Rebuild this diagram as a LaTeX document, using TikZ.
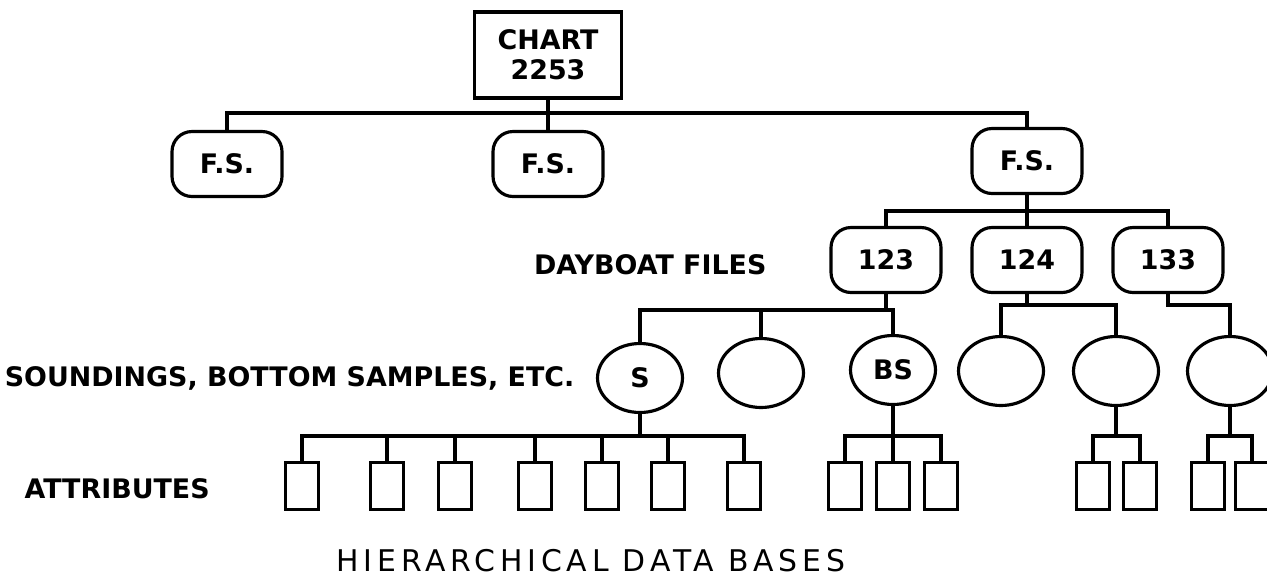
\documentclass[tikz,border=0pt]{standalone}
\usepackage{fontspec}
\setmainfont{DejaVu Sans}
\usetikzlibrary{shapes.geometric}

\begin{document}
\begin{tikzpicture}[x=0.02cm,y=-0.02cm,line width=1.8pt,
    lbl/.style={font=\fontsize{15.3}{17}\selectfont\bfseries},
    chartbox/.style={draw,lbl,align=center,minimum width=2.94cm,minimum height=1.72cm,inner sep=0pt},
    fsbox/.style={draw,lbl,rounded corners=0.4cm,minimum width=2.2cm,minimum height=1.3cm,inner sep=0pt},
    rec/.style={draw,ellipse,lbl,minimum width=1.7cm,minimum height=1.38cm,inner sep=0pt},
    attr/.style={draw,minimum width=0.66cm,minimum height=0.94cm,inner sep=0pt},
    wire/.style={line width=1.8pt}]
    \useasboundingbox (0,0) rectangle (1267,576);
    % chart and its F.S.
    \node[chartbox] (chart) at (548,55) {CHART\\2253};
    \node[fsbox] (fs1) at (227,164) {F.S.};
    \node[fsbox] (fs2) at (548,164) {F.S.};
    \node[fsbox] (fs3) at (1027,161) {F.S.};
    \coordinate (b1) at (0,113);
    \draw[wire] (chart) -- (fs2);
    \draw[wire] (fs1.north) |- (b1 -| fs3.north) -- (fs3.north);
    % dayboat files
    \node[fsbox] (d123) at (886,260) {123};
    \node[fsbox] (d124) at (1027,260) {124};
    \node[fsbox] (d133) at (1168,260) {133};
    \coordinate (b2) at (0,211);
    \draw[wire] (fs3) -- (d124);
    \draw[wire] (d123.north) |- (b2 -| d133.north) -- (d133.north);
    % records
    \node[rec] (s) at (640,378) {S};
    \node[rec] (c2) at (761,373) {};
    \node[rec] (bs) at (893,370) {BS};
    \node[rec] (c4) at (1001,371) {};
    \node[rec] (c5) at (1116,371) {};
    \node[rec] (c6) at (1230,371) {};
    \coordinate (b3) at (0,310);
    \coordinate (b4) at (0,305);
    \draw[wire] (d123.south) -- (d123.south |- b3);
    \draw[wire] (s.north) |- (b3 -| bs.north) -- (bs.north);
    \draw[wire] (c2.north) -- (c2.north |- b3);
    \draw[wire] (d124.south) -- (d124.south |- b4);
    \draw[wire] (c4.north) |- (b4 -| c5.north) -- (c5.north);
    \draw[wire] (d133.south) |- (b4 -| c6.north) -- (c6.north);
    % attributes
    \foreach \n/\x in {1/302,2/387,3/455,4/535,5/602,6/668,7/744}
        \node[attr] (a\n) at (\x,486) {};
    \foreach \n/\x in {1/845,2/893,3/941}
        \node[attr] (bs\n) at (\x,486) {};
    \foreach \n/\x in {1/1093,2/1140}
        \node[attr] (c5\n) at (\x,486) {};
    \foreach \n/\x in {1/1208,2/1252}
        \node[attr] (c6\n) at (\x,486) {};
    \coordinate (b5) at (0,436);
    \draw[wire] (s.south) -- (s.south |- b5);
    \draw[wire] (a1.north) |- (b5 -| a7.north) -- (a7.north);
    \foreach \n in {2,...,6}
        \draw[wire] (a\n.north) -- (a\n.north |- b5);
    \draw[wire] (bs) -- (bs2);
    \draw[wire] (bs1.north) |- (b5 -| bs3.north) -- (bs3.north);
    \draw[wire] (c5.south) -- (c5.south |- b5);
    \draw[wire] (c51.north) |- (b5 -| c52.north) -- (c52.north);
    \draw[wire] (c6.south) -- (c6.south |- b5);
    \draw[wire] (c61.north) |- (b5 -| c62.north) -- (c62.north);
    % level labels
    \node[lbl,anchor=east,inner sep=0pt] (dayboat) at (768,265) {DAYBOAT FILES};
    \node[lbl,anchor=east,inner sep=0pt] (sound) at (576,378) {SOUNDINGS, BOTTOM SAMPLES, ETC.};
    \node[lbl,anchor=west,inner sep=0pt] (attrib) at (23,489) {ATTRIBUTES};
    \node[font=\fontsize{17}{20}\selectfont\addfontfeature{LetterSpace=16},anchor=base,inner sep=0pt] (title) at (591,571) {HIERARCHICAL DATA BASES};
\end{tikzpicture}
\end{document}
